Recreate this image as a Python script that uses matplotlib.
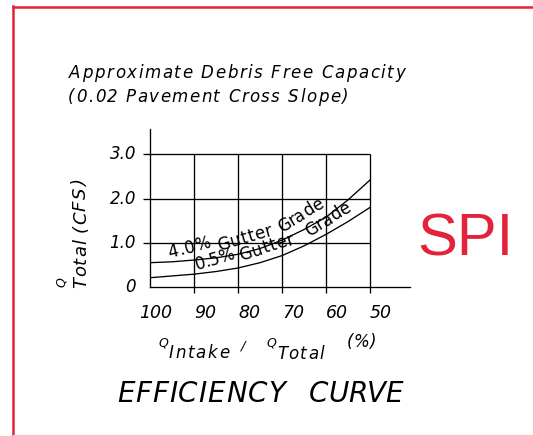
import math
import matplotlib
matplotlib.use("Agg")
import matplotlib.pyplot as plt
import matplotlib.transforms as mtransforms
from matplotlib.font_manager import FontProperties, findfont
from fontTools.ttLib import TTFont

# ---------------- data ----------------
efficiency_pct = [100, 95, 90, 85, 80, 75, 70, 65, 60, 55, 50]
q_total_4_0 = [0.55, 0.57, 0.61, 0.66, 0.74, 0.87, 1.06, 1.30, 1.58, 1.97, 2.42]
q_total_0_5 = [0.21, 0.25, 0.29, 0.35, 0.43, 0.55, 0.71, 0.93, 1.19, 1.48, 1.80]

x_tick_values = [100, 90, 80, 70, 60, 50]
x_tick_labels = ["100", "90", "80", "70", "60", "50"]
y_tick_values = [0, 1, 2, 3]
y_tick_labels = ["0", "1.0", "2.0", "3.0"]

title_line1 = "Approximate Debris Free Capacity"
title_line2 = "(0.02 Pavement Cross Slope)"
label_4_0 = ["4.0%", "Gutter", "Grade"]
label_0_5 = ["0.5%", "Gutter", "Grade"]
footer_words = ["EFFICIENCY", "CURVE"]
brand = "SPI"

# ---------------- figure ----------------
W, H, DPI = 533, 436, 100
fig = plt.figure(figsize=(W / DPI, H / DPI), dpi=DPI)
fig.patch.set_facecolor("white")

RED = "#E3223C"
ITALIC = "DejaVu Sans"
_font_cache = {}


def advances(s, prop, size):
    path = findfont(prop)
    if path not in _font_cache:
        f = TTFont(path, lazy=True)
        _font_cache[path] = (f.getBestCmap(), f["hmtx"], f["head"].unitsPerEm)
    cmap, hmtx, upm = _font_cache[path]
    px = size * DPI / 72.0
    out = []
    for c in s:
        g = cmap.get(ord(c))
        w = hmtx[g][0] if g is not None else upm * 0.6
        out.append(w / upm * px)
    return out


def ttext(s, x, y, size, width=None, track=0.0, angle=0.0, style="italic",
          family=ITALIC, color="black"):
    """Draw text with letter spacing; x, y = baseline-left in image pixels."""
    prop = FontProperties(family=family, style=style, size=size)
    adv = advances(s, prop, size)
    if width is not None and len(s) > 1:
        track = (width - sum(adv)) / (len(s) - 1)
    ca, sa = math.cos(math.radians(angle)), math.sin(math.radians(angle))
    cum = 0.0
    for c, a in zip(s, adv):
        px = x + cum * ca
        py = y - cum * sa
        if c != " ":
            fig.text(px / W, 1 - py / H, c, rotation=angle, rotation_mode="anchor",
                     ha="left", va="baseline", fontproperties=prop, color=color)
        cum += a + track


# red frame
fig.add_artist(plt.Line2D([12.5 / W, 12.5 / W], [0, 1 - 6.5 / H], color=RED, lw=1.8,
                          solid_capstyle="projecting"))
fig.add_artist(plt.Line2D([12.5 / W, 1], [1 - 7.3 / H, 1 - 7.3 / H], color=RED, lw=1.8))
fig.add_artist(plt.Line2D([13 / W, 1], [0.6 / H, 0.6 / H], color="#F4C3CA", lw=0.8))

# ---------------- axes ----------------
ax_l, ax_r, ax_t, ax_b = 150, 410, 129, 287
ax = fig.add_axes([ax_l / W, 1 - ax_b / H, (ax_r - ax_l) / W, (ax_b - ax_t) / H])
ax.set_xlim(100, 100 - (ax_r - ax_l) / 4.4)
ax.set_ylim(0, (ax_b - ax_t) / 44.2)
ax.patch.set_alpha(0)
for sp in ("top", "right"):
    ax.spines[sp].set_visible(False)
for sp in ("left", "bottom"):
    ax.spines[sp].set_linewidth(0.95)
    ax.spines[sp].set_color("black")

LW = 0.95
ax.hlines(y_tick_values[1:], x_tick_values[0], x_tick_values[-1], color="black", lw=LW)
ax.vlines(x_tick_values[1:], 0, y_tick_values[-1], color="black", lw=LW)
ax.set_xticks(x_tick_values[1:])
ax.set_yticks(y_tick_values[1:])
ax.tick_params(axis="x", length=4.5, width=LW, direction="out", labelbottom=False)
ax.tick_params(axis="y", length=5.0, width=LW, direction="out", labelleft=False)

ax.plot(efficiency_pct, q_total_4_0, color="black", lw=LW)
ax.plot(efficiency_pct, q_total_0_5, color="black", lw=LW)

# tick labels
xform_x = mtransforms.blended_transform_factory(ax.transData, ax.transAxes)
for v, lab in zip(x_tick_values, x_tick_labels):
    dx = -11 if len(lab) == 3 else 0
    tr = mtransforms.offset_copy(xform_x, fig=fig, x=dx, y=-30.5, units="dots")
    ax.text(v, 0, lab, transform=tr, ha="left", va="baseline", fontsize=12.5,
            style="italic", family=ITALIC)
xform_y = mtransforms.blended_transform_factory(ax.transAxes, ax.transData)
for v, lab in zip(y_tick_values, y_tick_labels):
    tr = mtransforms.offset_copy(xform_y, fig=fig, x=-14, y=0, units="dots")
    ax.text(0, v, lab, transform=tr, ha="right", va="center", fontsize=12,
            style="italic", family=ITALIC)

# ---------------- texts ----------------
ttext(title_line1, 69, 78, 12, width=336)
ttext(title_line2, 68, 102, 12, width=280)

# y label
ttext("Q", 65, 287, 9, angle=90)
ttext("Total (CFS)", 86, 288, 13, width=108, angle=90)

# x label
ttext("Q", 158, 347, 9)
ttext("Intake", 169, 358, 12, width=60)
ttext("/", 241, 349, 9.5)
ttext("Q", 266, 347, 9)
ttext("Total", 277, 359, 12, width=47)
ttext("(%)", 347, 347, 12, width=29)

# curve labels (upright)
ttext(label_4_0[0], 169, 258, 12, width=44, angle=14, style="normal")
ttext(label_4_0[1], 219, 251, 12, width=56, angle=16, style="normal")
ttext(label_4_0[2], 282, 233, 12, width=50, angle=32, style="normal")
ttext(label_0_5[0], 197, 269.5, 12, width=40, angle=16, style="normal")
ttext(label_0_5[1], 241, 261, 12, width=57, angle=18, style="normal")
ttext(label_0_5[2], 309, 236.5, 12, width=50, angle=31, style="normal")

# footer
ttext(footer_words[0], 117, 402, 20, width=168)
ttext(footer_words[1], 309, 402, 20, width=94)

# brand
fig.text(417 / W, 1 - 255 / H, brand, fontsize=43, family="Liberation Sans",
         color=RED, ha="left", va="baseline")

fig.savefig("out.png", dpi=DPI, facecolor="white")
